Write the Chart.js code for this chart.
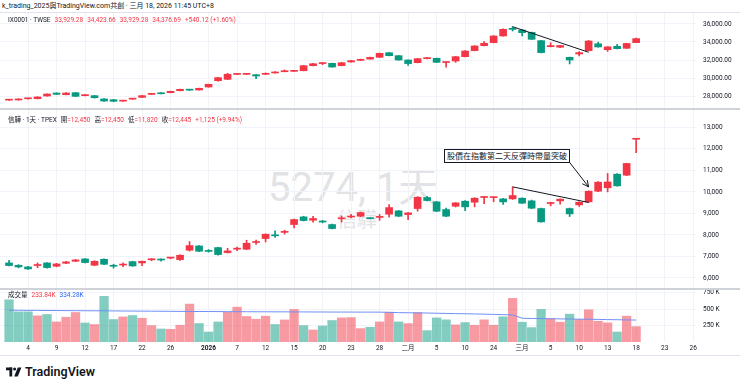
<!DOCTYPE html>
<html>
<head>
<meta charset="utf-8">
<script src="https://cdn.jsdelivr.net/npm/chart.js@4.4.1/dist/chart.umd.min.js"></script>
<style>
body { margin: 0; width: 740px; height: 385px; background: #fff; position: relative; overflow: hidden;
       font-family: Roboto, "Noto Sans CJK TC", sans-serif; color: #131722; }
.txt { position: absolute; white-space: nowrap; font-size: 6.5px; line-height: 8px; z-index: 3; }
.txt span { margin-left: 4px; }
.r { color: #f23645; }
.b { color: #2962ff; }
.hl { position: absolute; left: 0; width: 740px; z-index: 4; }
canvas { position: absolute; left: 0; z-index: 2; }
.wm { position: absolute; white-space: nowrap; color: #e2e3e6; z-index: 1; line-height: 1; }
#note { position: absolute; left: 444px; top: 149px; border: 1px solid #131722; background: #fff; z-index: 5;
        font-size: 8px; line-height: 12px; padding: 0 2px; white-space: nowrap; font-family: "Noto Sans CJK TC", sans-serif; }
#logo { position: absolute; left: 6px; top: 364px; font-size: 12.5px; font-weight: 600; display: flex; align-items: center; }
</style>
</head>
<body>
<div class="txt" style="left:2px; top:2px; font-size:7px;">k_trading_2025與TradingView.com共創 · 三月 18, 2026 11:45 UTC+8</div>
<div class="hl" style="top:12px; height:1px; background:#e0e3eb;"></div>

<div class="txt" style="left:8px; top:16px;">IX0001 · TWSE<span class="r">33,929.28</span><span class="r">34,423.66</span><span class="r">33,929.28</span><span class="r">34,376.69</span><span class="r">+540.12 (+1.60%)</span></div>
<div class="txt" style="left:8px; top:116px;">信驊 · 1天 · TPEX<span>開<b class="r" style="font-weight:normal">=12,450</b></span><span>高<b class="r" style="font-weight:normal">=12,450</b></span><span>低<b class="r" style="font-weight:normal">=11,820</b></span><span>收<b class="r" style="font-weight:normal">=12,445</b></span><span class="r">+1,125 (+9.94%)</span></div>
<div class="txt" style="left:8px; top:291px;">成交量<span class="r">233.84K</span><span class="b">334.28K</span></div>

<div class="wm" style="left:268px; top:168px; font-size:40px;">5274, 1天</div>
<div class="wm" style="left:337px; top:209px; font-size:20px; font-family:'Noto Sans CJK TC', sans-serif;">信驊</div>

<div id="note">股價在指數第二天反彈時帶量突破</div>

<canvas id="idxChart" width="740" height="96" style="top:13px"></canvas>
<canvas id="stkChart" width="740" height="180" style="top:109px"></canvas>
<canvas id="volChart" width="740" height="66" style="top:289px"></canvas>

<div class="hl" style="top:108px; height:2px; background:#cfd2d8;"></div>
<div class="hl" style="top:288px; height:2px; background:#cfd2d8;"></div>
<div class="hl" style="top:355px; height:1px; background:#e0e3eb;"></div>

<div id="logo">
  <svg width="16" height="10" viewBox="0 0 16 10" style="margin-right:3px">
    <rect x="0" y="0.5" width="6.2" height="2.8" fill="#131722"/>
    <rect x="3.4" y="0.5" width="2.8" height="9" fill="#131722"/>
    <circle cx="8.6" cy="2" r="1.5" fill="#131722"/>
    <polygon points="11.8,0.5 15.4,0.5 11.8,9.5 8.2,9.5" fill="#131722"/>
  </svg>TradingView
</div>

<script>
// trading days, 2025/12/02 - 2026/03/18
var dates = ['12/02','12/03','12/04','12/05','12/08','12/09','12/10','12/11','12/12','12/15','12/16','12/17','12/18','12/19','12/22','12/23','12/24','12/26','12/29','12/30','12/31',
             '01/02','01/05','01/06','01/07','01/08','01/09','01/12','01/13','01/14','01/15','01/16','01/19','01/20','01/21','01/22','01/23','01/26','01/27','01/28','01/29','01/30',
             '02/02','02/03','02/04','02/05','02/06','02/09','02/10','02/11','02/12','02/24','02/25','02/26',
             '03/02','03/03','03/04','03/05','03/06','03/09','03/10','03/11','03/12','03/13','03/16','03/17','03/18'];

var xTickIdx = [2, 5, 8, 11, 14, 17, 21, 24, 27, 30, 33, 36, 39, 42, 45, 48, 51, 54, 57, 60, 63, 66, 69, 72];
var xTickText = ['4','9','12','17','22','26','2026','7','12','15','20','23','28','二月','5','10','24','三月','5','10','13','18','23','26'];

// IX0001 TWSE index
var idxOpen  = [27540,27560,27690,27700,28000,28330,28150,28370,28040,28040,27670,27590,27430,27650,27850,28180,28330,28370,28590,28680,28670,
                29000,29700,29850,30400,30410,30370,30410,30560,30700,30740,30810,31370,31600,31630,31370,31780,31963,32100,32300,32810,32480,
                32000,31700,32150,32190,31720,31890,32370,33040,33590,33930,34670,35520,
                35330,35070,34150,33480,33420,32300,32670,33040,33800,33150,33520,33300,33929.28];
var idxHigh  = [27620,27700,27750,27920,28250,28360,28370,28400,28150,28070,27700,27630,27480,27700,28070,28290,28380,28550,28760,28720,28880,
                29330,30080,30520,30470,30470,30400,30560,30720,30900,30840,31400,31620,31700,31660,31740,31960,32100,32320,32780,32850,32500,
                32020,32180,32260,32210,31780,32400,33040,33600,34040,34700,35450,35700,
                35400,35100,34180,33920,33640,32330,32930,34180,34000,33480,33740,33860,34423.66];
var idxLow   = [27500,27540,27650,27680,27980,28160,28120,27940,28000,27760,27400,27370,27400,27620,27830,28160,28230,28350,28570,28620,28650,
                28980,29650,29830,30370,30380,29930,30390,30540,30680,30720,30790,31350,31480,31200,31350,31760,31940,32080,32280,32460,31980,
                31400,31680,32120,31720,31190,31740,32350,33020,33570,33900,34650,35220,
                34670,34270,32800,33450,33380,31560,32450,33000,33420,32960,33230,33280,33929.28];
var idxClose = [27560,27660,27710,27890,28220,28185,28330,27960,28110,27810,27440,27410,27450,27670,28040,28260,28250,28520,28740,28650,28850,
                29300,30040,30420,30430,30440,30220,30520,30670,30810,30815,31370,31590,31650,31220,31700,31926,32074,32290,32740,32480,32000,
                31600,32150,32220,31740,31760,32370,33000,33560,33850,34670,35410,35400,
                35040,34300,32820,33600,33610,32000,32820,34110,33450,33460,33260,33836.57,34376.69];

// 信驊 5274 TPEX
var stkOpen  = [6700,6592,6514,6580,6700,6545,6685,6777,6886,6592,6870,6555,6600,6762,6700,6845,6850,6925,6855,7289,7490,
                7265,7413,7181,7340,7336,7650,7832,7990,8120,8483,8839,8684,8615,8483,8750,8830,8870,8790,8815,8963,9118,
                8947,9226,9738,9536,9180,9335,9567,9520,9740,9735,9675,9675,
                9707,9583,9226,9458,9583,9226,9396,9536,10032,10190,10822,10776,12450];
var stkHigh  = [6824,6620,6540,6700,6720,6680,6770,6860,6900,6800,6890,6640,6700,6780,6790,6900,6890,6960,7080,7692,7510,
                7320,7430,7382,7440,7754,7760,8050,8190,8220,8740,8870,8870,8680,8500,8880,8960,9060,8800,8950,9412,9140,
                9040,9780,9790,9560,9250,9500,9600,9730,9780,9760,9700,10233,
                9720,9620,9250,9520,9680,9250,9540,10050,10480,10853,10850,11330,12450];
var stkLow   = [6560,6470,6400,6480,6460,6520,6660,6760,6700,6570,6620,6460,6530,6540,6576,6800,6780,6890,6820,7250,7220,
                7200,7060,7160,7270,7320,7560,7677,7880,8040,8328,8650,8590,8560,8280,8600,8790,8850,8740,8680,8830,8850,
                8714,9102,9580,9080,8850,9300,9133,9304,9458,9540,9412,9650,
                9460,9220,8590,9350,9427,8854,9330,9520,10010,10000,10260,10750,11820];
var stkClose = [6577,6514,6421,6600,6483,6654,6747,6840,6716,6777,6638,6545,6615,6561,6777,6860,6835,6940,7057,7506,7243,
                7235,7088,7258,7355,7614,7665,8033,7960,8130,8715,8668,8762,8600,8297,8770,8845,9040,8755,8830,9272,8870,
                9025,9753,9598,9102,8870,9490,9304,9707,9750,9755,9536,9831,
                9474,9242,8606,9505,9660,8978,9520,10032,10450,10460,10280,11320,12445];

// volume (K shares) and its moving average
var volK = [643,459,459,398,419,306,377,449,290,266,695,342,382,403,362,250,198,193,255,577,281,
            152,305,454,531,388,347,393,266,336,496,250,183,244,327,367,372,204,224,306,454,306,
            281,449,173,367,337,260,296,255,337,255,383,664,
            301,219,496,357,301,424,342,490,316,291,152,393,233.84];
var volMaK = [484,483,482,481,480,479,478,477,476,475,474,473,472,471,470,469,468,467,466,465,464,
              464,463,462,462,461,460,460,459,459,458,458,457,457,456,456,456,455,455,455,451,447,
              445,443,441,438,435,432,430,427,424,420,416,412,
              362,358,356,354,352,350,348,346,344,341,339,336,334.28];

// trend lines drawn on the chart
var idxLineX = [53, 61], idxLineY = [35700, 32860];
var stkLineX = [53, 61], stkLineY = [10233, 9507];
var arrowX = [58.95, 61], arrowY = [11395, 10233];

var idxTicks = [28000, 30000, 32000, 34000, 36000];
var stkTicks = [6000, 7000, 8000, 9000, 10000, 11000, 12000, 13000];
var volTicks = [250, 500, 750];

var RED = '#f23645', GREEN = '#089981';
var RED_VOL = 'rgba(242,54,69,0.5)', GREEN_VOL = 'rgba(8,153,129,0.5)';
var FONT = 'Roboto, "Noto Sans CJK TC", sans-serif';
var X_MIN = -0.95, X_MAX = 72.3;

function upFlags(o, c) {
    return c.map(function(v, i) { return v >= (i === 0 ? o[0] : c[i - 1]); });
}

function toPoints(xs, ys) {
    return xs.map(function(x, i) { return {x: x, y: ys[i]}; });
}

function lineSet(xs, ys, arrow) {
    return {type: 'line', data: toPoints(xs, ys), borderColor: '#131722', borderWidth: 1,
            pointRadius: 0, fill: false, arrow: !!arrow};
}

function candleSets(o, h, l, c) {
    var col = upFlags(o, c).map(function(u) { return u ? RED : GREEN; });
    var body = {type: 'bar', grouped: false, barThickness: 7, minBarLength: 1, backgroundColor: col,
                data: c.map(function(v, i) { return {x: i, y: [o[i], v]}; })};
    var wick = {type: 'bar', grouped: false, barThickness: 1, backgroundColor: col,
                data: c.map(function(v, i) { return {x: i, y: [l[i], h[i]]}; })};
    return [body, wick];
}

//arrow head at the end of the note pointer
var arrowHead = {
    id: 'arrowHead',
    afterDatasetsDraw: function(chart) {
        chart.data.datasets.forEach(function(ds, k) {
            if (!ds.arrow) return;
            var pts = chart.getDatasetMeta(k).data;
            var a = pts[pts.length - 2], b = pts[pts.length - 1];
            var ang = Math.atan2(b.y - a.y, b.x - a.x);
            var ctx = chart.ctx;
            ctx.save();
            ctx.strokeStyle = '#131722';
            ctx.lineWidth = 1;
            ctx.beginPath();
            [0.45, -0.45].forEach(function(d) {
                ctx.moveTo(b.x, b.y);
                ctx.lineTo(b.x - 7 * Math.cos(ang + d), b.y - 7 * Math.sin(ang + d));
            });
            ctx.stroke();
            ctx.restore();
        });
    }
};

function xScale(showLabels) {
    return {
        type: 'linear', min: X_MIN, max: X_MAX, offset: false,
        afterBuildTicks: function(s) { s.ticks = xTickIdx.map(function(v) { return {value: v}; }); },
        afterFit: function(s) { s.height = showLabels ? 13 : 0; s.paddingLeft = 0; s.paddingRight = 0; },
        grid: {color: '#f2f3f6', drawTicks: false, offset: false},
        border: {display: false},
        ticks: {
            display: showLabels, padding: 2.5, color: '#131722', maxRotation: 0, autoSkip: false,
            font: function(ctx) {
                return {family: FONT, size: 6.5, weight: xTickText[ctx.index] === '2026' ? 'bold' : 'normal'};
            },
            callback: function(v, i) { return xTickText[i]; }
        }
    };
}

function yScale(min, max, ticks, fmt) {
    return {
        position: 'right', min: min, max: max, beginAtZero: false,
        afterBuildTicks: function(s) { s.ticks = ticks.map(function(v) { return {value: v}; }); },
        afterFit: function(s) { s.width = 44; s.paddingTop = 0; s.paddingBottom = 0; },
        grid: {color: '#f0f3fa', drawTicks: false},
        border: {display: false},
        ticks: {padding: 7, color: '#131722', font: {family: FONT, size: 6.5}, callback: fmt}
    };
}

function baseOptions(x, y) {
    return {
        responsive: false,
        animation: false,
        layout: {padding: 0},
        plugins: {legend: {display: false}, tooltip: {enabled: false}},
        scales: {x: x, y: y}
    };
}

//Index pane
new Chart(document.getElementById('idxChart'), {
    type: 'bar',
    data: {datasets: [lineSet(idxLineX, idxLineY)].concat(candleSets(idxOpen, idxHigh, idxLow, idxClose))},
    options: baseOptions(xScale(false), yScale(26556, 37222, idxTicks, function(v) {
        return v.toLocaleString('en-US', {minimumFractionDigits: 2, maximumFractionDigits: 2});
    }))
});

//Stock pane
new Chart(document.getElementById('stkChart'), {
    type: 'bar',
    data: {datasets: [lineSet(stkLineX, stkLineY), lineSet(arrowX, arrowY, true)].concat(candleSets(stkOpen, stkHigh, stkLow, stkClose))},
    options: baseOptions(xScale(false), yScale(5489, 13850, stkTicks, function(v) {
        return v.toLocaleString('en-US');
    })),
    plugins: [arrowHead]
});

//Volume pane
var volCol = upFlags(stkOpen, stkClose).map(function(u) { return u ? RED_VOL : GREEN_VOL; });
new Chart(document.getElementById('volChart'), {
    type: 'bar',
    data: {
        datasets: [
            {type: 'line', data: toPoints(volMaK.map(function(v, i) { return i; }), volMaK),
             borderColor: '#6f8ff5', borderWidth: 1, pointRadius: 0, fill: false},
            {type: 'bar', grouped: false, barThickness: 8.6, backgroundColor: volCol,
             data: volK.map(function(v, i) { return {x: i, y: v}; })}
        ]
    },
    options: baseOptions(xScale(true), yScale(0, 807, volTicks, function(v) { return v + ' K'; }))
});
</script>
</body>
</html>
